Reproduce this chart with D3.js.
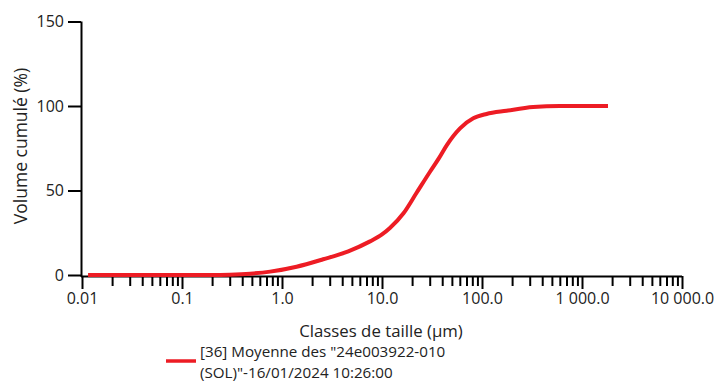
<!DOCTYPE html>
<html>
<head>
  <meta charset="utf-8">
  <title></title>
  <style>
    body,html{
      margin:0;
      padding:0;
      background:#fff;
    }
    svg text{
      font-family: "Open Sans", "Noto Sans", sans-serif;
      fill:#222;
    }
    .axis path, .axis line{
      stroke:#000;
      stroke-width:2px;
    }
  </style>
</head>
<body>
  <div id="container"></div>
  <script src="https://d3js.org/d3.v7.min.js"></script>
  <script type="text/javascript">

    // size classes (µm) and cumulated volume (%)
    var sizes = [0.0115, 0.1, 0.2, 0.3, 0.48, 0.76, 1.4, 2.58, 4.6, 7.59, 10, 12, 16.4, 22.1, 30.2, 37, 44.5, 60.3, 81.8, 111, 176, 325, 600, 1000, 1820];
    var volumes = [0, 0, 0, 0.2, 0.8, 2.0, 4.9, 9.3, 14.0, 19.9, 24, 27.8, 36.5, 48.5, 61.1, 69, 76.9, 86.8, 92.7, 95.3, 97.2, 99.4, 100, 100, 100];

    var yTicks = [0, 50, 100, 150];
    var xMajor = [0.01, 0.1, 1, 10, 100, 1000, 10000];
    var xMajorLabels = ['0.01', '0.1', '1.0', '10.0', '100.0', '1 000.0', '10 000.0'];

    var legendLines = ['[36] Moyenne des "24e003922-010', '(SOL)"-16/01/2024 10:26:00'];

    var width = 717, height = 381;

    var svg = d3.select('#container').append('svg')
      .attr('width', width).attr('height', height);

    var x = d3.scaleLog().domain([0.01, 10000]).range([82, 682]);
    var y = d3.scaleLinear().domain([0, 150]).range([275, 21.5]);
    var axisY = 276;

    // minor ticks
    var minor = [];
    xMajor.slice(0, -1).forEach(function(p){
      for(var k = 2; k<10; k++){ minor.push(p*k); }
    });

    svg.append('g').attr('class', 'axis')
      .attr('transform', 'translate(0,' + axisY + ')')
      .call(d3.axisBottom(x).tickValues(minor).tickFormat('').tickSize(10).tickSizeOuter(0))
      .select('.domain').remove();

    var gx = svg.append('g').attr('class', 'axis')
      .attr('transform', 'translate(0,' + axisY + ')')
      .call(d3.axisBottom(x).tickValues(xMajor)
        .tickFormat(function(d, i){ return xMajorLabels[i]; })
        .tickSize(13).tickSizeOuter(0).tickPadding(4));
    gx.select('.domain').attr('d', 'M81,0.5H' + x(10000));
    gx.selectAll('text').style('font-size', '16px').attr('fill', '#222');

    var gy = svg.append('g').attr('class', 'axis')
      .attr('transform', 'translate(81,0)')
      .call(d3.axisLeft(y).tickValues(yTicks).tickSize(13).tickSizeOuter(0).tickPadding(4));
    gy.select('.domain').attr('d', 'M0.5,' + y(150) + 'V' + (axisY + 1));
    gy.selectAll('text').style('font-size', '16px').attr('fill', '#222');

    svg.append('text')
      .attr('transform', 'translate(27,146) rotate(-90)')
      .attr('text-anchor', 'middle')
      .style('font-size', '17.5px')
      .text('Volume cumulé (%)');

    svg.append('text')
      .attr('x', 381).attr('y', 337)
      .attr('text-anchor', 'middle')
      .style('font-size', '16.8px')
      .text('Classes de taille (µm)');

    var line = d3.line()
      .x(function(d){ return x(d[0]); })
      .y(function(d){ return y(d[1]); })
      .curve(d3.curveMonotoneX);

    svg.append('path')
      .datum(sizes.map(function(s, i){ return [s, volumes[i]]; }))
      .attr('fill', 'none')
      .attr('stroke', '#ed1c24')
      .attr('stroke-width', 4)
      .attr('d', line);

    // legend
    svg.append('line')
      .attr('x1', 166).attr('x2', 196)
      .attr('y1', 361).attr('y2', 361)
      .attr('stroke', '#ed1c24').attr('stroke-width', 3.5);

    svg.selectAll('.leg').data(legendLines).enter().append('text')
      .attr('class', 'leg')
      .attr('x', 200)
      .attr('y', function(d, i){ return 357 + i*20.5; })
      .style('font-size', '15.2px')
      .text(function(d){ return d; });

  </script>
</body>
</html>
